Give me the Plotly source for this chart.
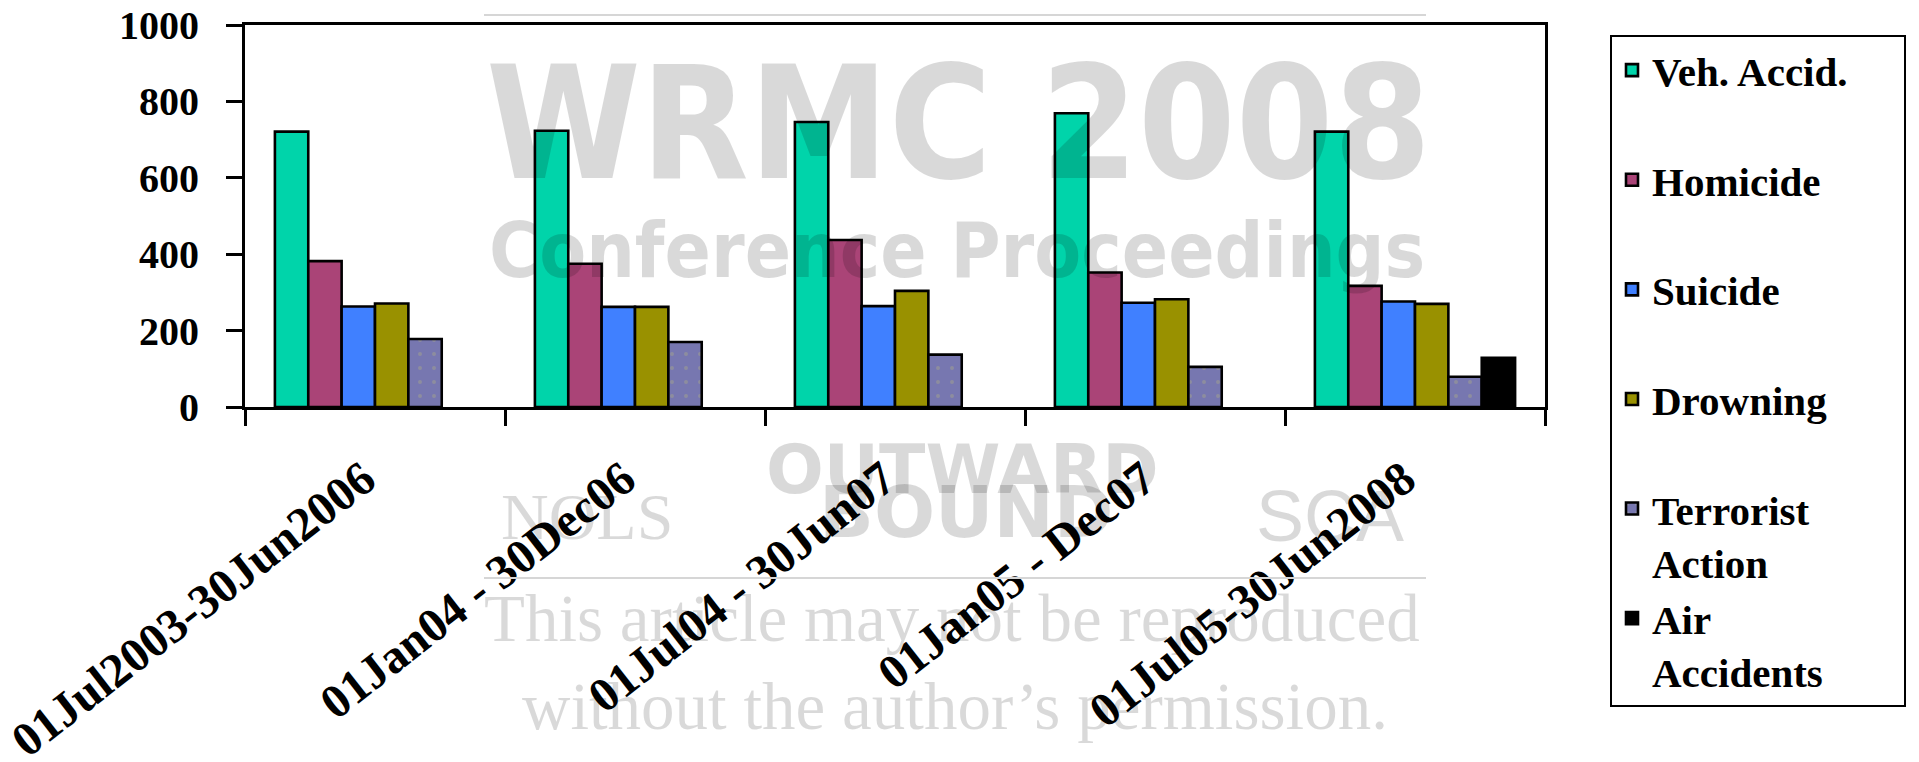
import plotly.graph_objects as go

# ---- data ----
categories = ["01Jul2003-30Jun2006", "01Jan04 - 30Dec06", "01Jul04 - 30Jun07",
              "01Jan05 - Dec07", "01Jul05-30Jun2008"]
veh_accid = [721, 723, 746, 769, 721]
homicide = [382, 375, 437, 352, 317]
suicide = [263, 262, 264, 273, 276]
drowning = [271, 262, 304, 282, 270]
terrorist_action = [178, 170, 137, 105, 79]
air_accidents = [None, None, None, None, 129]

series_names = ["Veh. Accid.", "Homicide", "Suicide", "Drowning",
                "Terrorist<br>Action", "Air<br>Accidents"]
series_values = [veh_accid, homicide, suicide, drowning, terrorist_action, air_accidents]
series_colors = ["#00D4AA", "#AA4477", "#4080FF", "#999100", "#7777B0", "#000000"]

y_ticks = [0, 200, 400, 600, 800, 1000]

# page body has an 8px margin: size the figure so the whole page is 1919x762
OFF = 8
W, H = 1919 - 2 * OFF, 762 - 2 * OFF
PX0, PX1, PY0, PY1 = 245, 1545, 25, 407          # plot area in screen pixels
L, T = PX0 - OFF, PY0 - OFF
R, B = W - (PX1 - OFF), H - (PY1 - OFF)
PW, PH = PX1 - PX0, PY1 - PY0


def px_x(sx):
    return (sx - PX0) / PW


def px_y(sy):
    return (PY1 - sy) / PH


SERIF = "Liberation Serif, Times New Roman, serif"

fig = go.Figure()
for name, vals, col in zip(series_names, series_values, series_colors):
    # single-line names get an empty second line so every legend slot is equal
    legend_name = name if "<br>" in name else name + "<br> "
    kw = {}
    if col == "#7777B0":
        kw["pattern"] = dict(shape=".", fgcolor="#A4A48C", size=14, solidity=0.06)
    fig.add_trace(go.Bar(
        x=categories, y=vals, name=legend_name,
        marker=dict(color=col, line=dict(color="black", width=2.6), **kw),
    ))
# widen the legend box a little like the reference
fig.data[0].name = "Veh. Accid." + "&nbsp;" * 5 + "<br> "

fig.update_layout(
    width=W, height=H,
    margin=dict(l=L, r=R, t=T, b=B, autoexpand=False),
    paper_bgcolor="white", plot_bgcolor="white",
    barmode="group", bargap=0.23, bargroupgap=0,
    showlegend=True,
    legend=dict(
        x=px_x(1610), y=px_y(35), xanchor="left", yanchor="top",
        bgcolor="white", bordercolor="black", borderwidth=2,
        font=dict(family=SERIF, size=41, color="black", weight=700),
        valign="top", traceorder="normal", itemwidth=30, maxheight=720,
    ),
    xaxis=dict(
        type="category", showline=True, linecolor="black", linewidth=3, mirror=True,
        ticks="outside", tickson="boundaries", ticklen=16, tickwidth=2.5, tickcolor="black",
        tickangle=-38, ticklabelstandoff=22, ticklabelshift=-11,
        tickfont=dict(family=SERIF, size=48, color="black", weight=700),
        showgrid=False, zeroline=False,
    ),
    yaxis=dict(
        range=[0, 1000], tickvals=y_ticks, showline=True, linecolor="black", linewidth=3,
        mirror=True, ticks="outside", ticklen=16, tickwidth=3, tickcolor="black",
        ticklabelstandoff=19, ticklabeloverflow="allow",
        tickfont=dict(family=SERIF, size=40, color="black", weight=700),
        showgrid=False, zeroline=False,
    ),
)

# ---- watermark overlay of the proceedings ----
WM = "rgba(0,0,0,0.15)"
for yy in (15, 578):
    fig.add_shape(type="line", xref="paper", yref="paper",
                  x0=px_x(484), x1=px_x(1426), y0=px_y(yy), y1=px_y(yy),
                  line=dict(color="#d6d6d6", width=2), layer="above")

COND = "DejaVu Sans Condensed, Liberation Sans Narrow, sans-serif"
wm_texts = [
    ("WRMC 2008", 958, 124, COND, 156, 700),
    ("Conference Proceedings", 957, 250, COND, 76, 700),
    ("OUTWARD", 962, 469, "DejaVu Sans, sans-serif", 68, 700),
    ("BOUND", 966, 512, "DejaVu Sans, sans-serif", 72, 700),
    ("NOLS", 587, 516, "Liberation Serif, serif", 66, 400),
    ("SCA", 1330, 516, "Liberation Sans, sans-serif", 72, 400),
    ("This article may not be reproduced", 952, 618, "Liberation Serif, serif", 67, 400),
    ("without the author\u2019s permission.", 955, 706, "Liberation Serif, serif", 67, 400),
]
for txt, cx, cy, fam, size, wt in wm_texts:
    fig.add_annotation(text=txt, xref="paper", yref="paper", x=px_x(cx), y=px_y(cy),
                       xanchor="center", yanchor="middle", showarrow=False,
                       font=dict(family=fam, size=size, color=WM, weight=wt))

fig.write_html("out.html")
